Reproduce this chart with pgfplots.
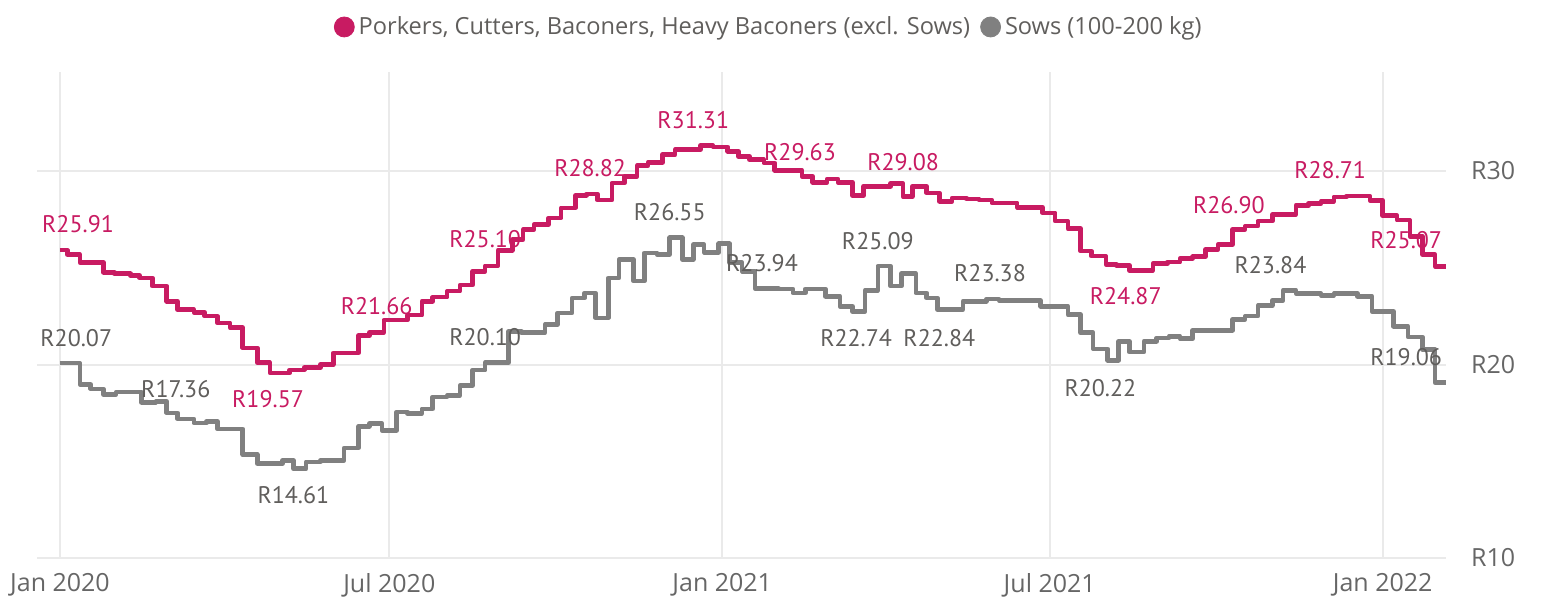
\documentclass[border=0pt]{standalone}
\usepackage{fontspec}
\setmainfont{Open Sans}
\newfontfamily\labelfont{PT Sans}
\usepackage{pgfplots}
\usepackage{pgfplotstable}
\pgfplotsset{compat=1.18}
\definecolor{pinkc}{RGB}{200,27,98}
\definecolor{grayc}{RGB}{128,128,128}
\definecolor{lblgray}{RGB}{96,94,92}
\definecolor{tickc}{RGB}{102,102,102}
\definecolor{gridc}{RGB}{234,234,234}

\pgfplotstableread{
x y
0 25.91
4 25.68
11 25.27
24 24.77
30 24.69
39 24.6
44 24.48
51 24.05
59 23.27
65 22.84
74 22.7
80 22.5
87 22.15
94 21.9
101 20.86
109 20.09
116 19.57
127 19.72
135 19.85
144 20.0
151 20.6
165 21.5
171 21.66
179 22.3
192 22.55
200 23.27
206 23.48
214 23.79
221 24.1
228 24.82
235 25.10
242 25.9
250 26.46
256 26.98
262 27.24
270 27.58
277 28.1
285 28.75
291 28.82
297 28.5
305 29.38
312 29.73
319 30.28
325 30.45
333 30.85
340 31.11
354 31.31
361 31.25
369 31.02
375 30.76
381 30.59
389 30.42
395 30.04
410 29.73
416 29.42
424 29.59
430 29.42
438 28.73
444 29.21
459 29.35
466 28.67
471 29.21
479 28.87
486 28.44
493 28.61
501 28.56
508 28.5
515 28.35
529 28.13
543 27.84
550 27.41
557 27.02
564 25.86
570 25.6
578 25.17
584 25.12
591 24.87
604 25.22
612 25.29
619 25.48
626 25.57
633 25.94
640 26.2
648 26.98
655 27.15
662 27.41
670 27.75
683 28.22
690 28.32
697 28.44
704 28.66
711 28.71
717 28.7
724 28.49
731 27.70
739 27.46
746 26.63
753 25.68
760 25.07
766 25.07
}\pork

\pgfplotstableread{
x y
0 20.07
11 18.97
17 18.74
24 18.45
31 18.57
45 18.05
53 18.1
59 17.5
65 17.19
74 16.98
81 17.05
87 16.67
101 15.35
109 14.88
123 15.04
129 14.61
136 14.97
144 15.04
157 15.69
165 16.81
171 16.95
178 16.6
186 17.55
192 17.47
200 17.71
206 18.33
214 18.4
221 18.91
228 19.71
235 20.10
248 21.72
255 21.64
268 22.07
275 22.67
283 23.44
290 23.7
296 22.41
303 24.48
309 25.43
317 24.31
323 25.77
330 25.69
337 26.55
344 25.43
350 26.2
356 25.8
364 26.24
370 25.26
377 24.82
384 23.94
397 23.91
405 23.7
412 23.91
423 23.53
431 23.01
438 22.74
445 23.84
452 25.09
459 24.05
465 24.7
473 23.7
479 23.44
485 22.84
499 23.27
512 23.38
519 23.32
526 23.3
542 23.01
557 22.58
564 21.64
571 20.81
579 20.22
585 21.2
591 20.64
599 21.2
606 21.37
613 21.46
619 21.33
626 21.77
648 22.33
655 22.5
662 23.05
670 23.32
676 23.84
683 23.67
697 23.57
704 23.67
717 23.53
725 22.75
737 21.98
745 21.43
753 20.78
760 19.06
766 19.06
}\sows

\pgfplotstableread{
x y label
10 27.24 R25.91
115 18.19 R19.57
175 23.01 R21.66
235 26.46 R25.10
293 30.17 R28.82
350 32.63 R31.31
409 30.97 R29.63
466 30.45 R29.08
589 23.53 R24.87
646 28.23 R26.90
702 30.04 R28.71
744 26.41 R25.07
}\porklabels

\pgfplotstableread{
x y label
9 21.38 R20.07
64 18.71 R17.36
129 13.23 R14.61
235 21.43 R20.10
337 27.86 R26.55
388 25.26 R23.94
440 21.35 R22.74
452 26.37 R25.09
486 21.35 R22.84
514 24.74 R23.38
575 18.79 R20.22
669 25.12 R23.84
744 20.40 R19.06
}\sowlabels

\begin{document}
\begin{tikzpicture}
\useasboundingbox (-18.5pt,-19.5pt) rectangle (755.5pt,279pt);
\begin{axis}[
  at={(0pt,0pt)}, anchor=south west,
  scale only axis, width=704.5pt, height=243pt,
  xmin=-12.7, xmax=766, ymin=10, ymax=35.12,
  axis line style={draw=none},
  major tick length=0pt,
  grid=major, grid style={gridc, line width=1pt},
  xtick={0,182,366,547,731},
  xticklabels={Jan 2020,Jul 2020,Jan 2021,Jul 2021,Jan 2022},
  ytick={10,20,30}, yticklabels={R10,R20,R30},
  yticklabel pos=right,
  tick label style={font=\fontsize{12.5}{14}\selectfont, text=tickc},
  xticklabel style={yshift=-4pt},
  yticklabel style={anchor=west, xshift=9pt},
  clip=false,
  legend style={at={(axis description cs:0.52,1.0926)}, anchor=center,
    draw=none, fill=none, font=\fontsize{11.8}{14}\selectfont, text=lblgray,
    /tikz/every even column/.append style={column sep=3pt},
    inner sep=0pt},
  legend columns=2,
]
\addlegendimage{legend image code/.code={\fill[pinkc] (5pt,0pt) circle (5pt);}}
\addlegendentry{Porkers, Cutters, Baconers, Heavy Baconers (excl. Sows)}
\addlegendimage{legend image code/.code={\fill[grayc] (5pt,0pt) circle (5pt);}}
\addlegendentry{Sows (100-200 kg)}

\addplot[forget plot, only marks, mark=none, point meta=explicit symbolic,
  nodes near coords, nodes near coords style={anchor=center, text=pinkc, font=\labelfont\fontsize{12}{14}\selectfont}]
  table[x=x, y=y, meta=label]{\porklabels};
\addplot[forget plot, only marks, mark=none, point meta=explicit symbolic,
  nodes near coords, nodes near coords style={anchor=center, text=lblgray, font=\labelfont\fontsize{12}{14}\selectfont}]
  table[x=x, y=y, meta=label]{\sowlabels};

\addplot[forget plot, const plot, grayc, line width=2.3pt, line join=round] table[x=x,y=y]{\sows};
\addplot[forget plot, const plot, pinkc, line width=2.3pt, line join=round] table[x=x,y=y]{\pork};
\end{axis}
\end{tikzpicture}
\end{document}
